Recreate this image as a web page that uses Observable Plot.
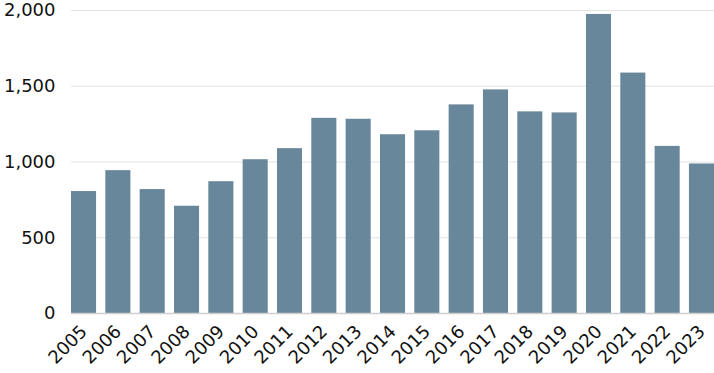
<!DOCTYPE html>
<html>
<head>
<meta charset="utf-8">
<script src="https://cdn.jsdelivr.net/npm/d3@7"></script>
<script src="https://cdn.jsdelivr.net/npm/@observablehq/plot@0.6"></script>
<style>
  html, body { margin: 0; padding: 0; background: #fff; }
  #chart svg { display: block; }
</style>
</head>
<body>
<div id="chart"></div>
<script>
const years = ["2005","2006","2007","2008","2009","2010","2011","2012","2013","2014","2015","2016","2017","2018","2019","2020","2021","2022","2023"];
const values = [805, 943, 818, 708, 870, 1015, 1088, 1288, 1282, 1180, 1206, 1377, 1476, 1331, 1324, 1974, 1587, 1103, 987];
const yTicks = [0, 500, 1000, 1500, 2000];

const data = years.map((year, i) => ({year, value: values[i]}));

const chart = Plot.plot({
  width: 714,
  height: 373,
  marginLeft: 71,
  marginRight: 0,
  marginTop: 10,
  marginBottom: 60,
  style: {fontFamily: "DejaVu Sans", fontSize: "18px", color: "#111", background: "#fff", overflow: "visible"},
  x: {domain: years, paddingInner: 0.27, paddingOuter: 0, round: false, label: null},
  y: {domain: [0, 2000], label: null},
  marks: [
    Plot.gridY(yTicks, {stroke: "#e3e3e3", strokeOpacity: 1}),
    Plot.barY(data, {x: "year", y: "value", fill: "#68879a"}),
    Plot.ruleY([0], {stroke: "#cfcfcf", strokeWidth: 1.5}),
    Plot.axisY(yTicks, {tickSize: 0, tickPadding: 16, tickFormat: d3.format(","), fontSize: 18}),
    Plot.axisX({tickSize: 0, tickPadding: 15, tickRotate: -45, fontSize: 18})
  ]
});
document.getElementById("chart").appendChild(chart);
</script>
</body>
</html>
